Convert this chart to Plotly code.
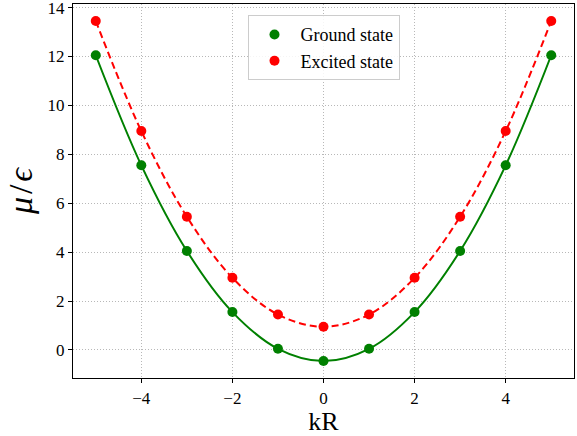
import plotly.graph_objects as go

kR = [-5, -4, -3, -2, -1, 0, 1, 2, 3, 4, 5]
ground = [12.05, 7.55, 4.05, 1.55, 0.05, -0.45, 0.05, 1.55, 4.05, 7.55, 12.05]
excited = [13.45, 8.95, 5.45, 2.95, 1.45, 0.95, 1.45, 2.95, 5.45, 8.95, 13.45]
x_ticks = [-4, -2, 0, 2, 4]
x_tick_text = ["\u22124", "\u22122", "0", "2", "4"]
y_ticks = [0, 2, 4, 6, 8, 10, 12, 14]

GREEN = "#008000"
RED = "#ff0000"
FONT = "Liberation Serif"

fig = go.Figure()
fig.add_trace(go.Scatter(x=kR, y=ground, mode="lines", line=dict(color=GREEN, width=2, shape="spline"),
                         showlegend=False, hoverinfo="skip"))
fig.add_trace(go.Scatter(x=kR, y=excited, mode="lines", line=dict(color=RED, width=2, dash="7px,4px", shape="spline"),
                         showlegend=False, hoverinfo="skip"))
fig.add_trace(go.Scatter(x=kR, y=ground, mode="markers", marker=dict(color=GREEN, size=10),
                         name="Ground state"))
fig.add_trace(go.Scatter(x=kR, y=excited, mode="markers", marker=dict(color=RED, size=10),
                         name="Excited state"))

fig.update_layout(
    width=577, height=436,
    margin=dict(l=73, r=3, t=4, b=58),
    plot_bgcolor="white", paper_bgcolor="white",
    font=dict(family=FONT, size=17, color="black"),
    legend=dict(x=0.5, y=0.97, xanchor="center", yanchor="top",
                bgcolor="rgba(255,255,255,0.85)", bordercolor="#cccccc", borderwidth=1,
                font=dict(family=FONT, size=18), itemwidth=42),
)

for upd in (fig.update_xaxes, fig.update_yaxes):
    upd(showline=True, linecolor="black", linewidth=1.2, mirror=True,
        ticks="outside", ticklen=4, tickcolor="black",
        showgrid=True, gridcolor="#b8b8b8", griddash="1px,2px", gridwidth=1,
        zeroline=False, tickfont_family=FONT, tickfont_size=17, tickfont_color="black",
        ticklabeloverflow="allow", automargin=False)

fig.update_xaxes(range=[-5.5, 5.5], tickmode="array", tickvals=x_ticks, ticktext=x_tick_text,
                 title_text="kR", title_font=dict(family=FONT, size=26), title_standoff=0)
fig.update_yaxes(range=[-1.145, 14.145], tickmode="array", tickvals=y_ticks,
                 title_text="<i>\u03bc</i>\u200a/\u200a<i>\u03f5</i>", title_font=dict(family=FONT, size=34),
                 title_standoff=4)

fig.write_html("out.html")
